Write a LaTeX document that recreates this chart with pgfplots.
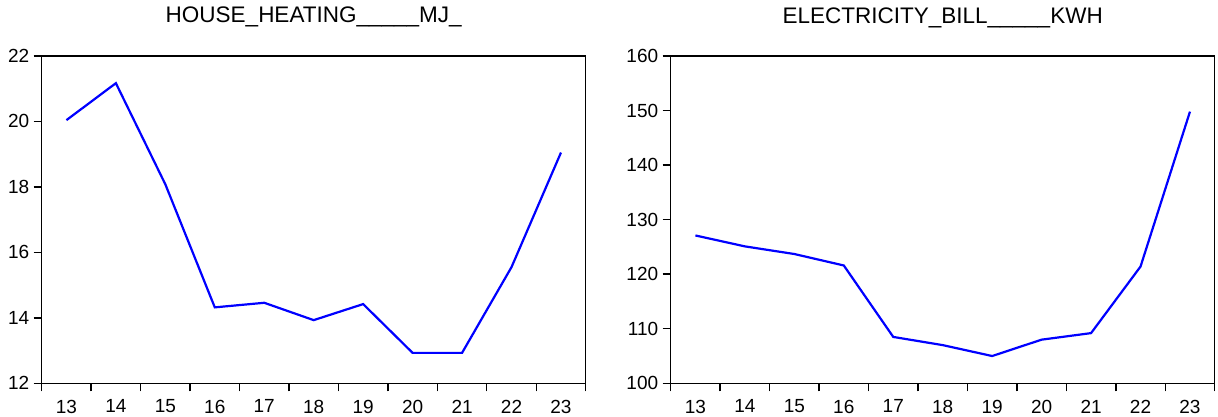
\documentclass[border=0pt]{standalone}
\usepackage{pgfplots}
\pgfplotsset{compat=1.18}
\usepackage{fontspec}
\setmainfont{Liberation Sans}

\pgfplotstableread{
x y
13 20.04
14 21.17
15 18.08
16 14.32
17 14.46
18 13.93
19 14.42
20 12.93
21 12.93
22 15.55
23 19.05
}\heating

\pgfplotstableread{
x y
13 127.1
14 125.1
15 123.7
16 121.6
17 108.5
18 107.0
19 105.0
20 108.0
21 109.2
22 121.4
23 149.8
}\electricity

\pgfplotsset{
  evstyle/.style={
    scale only axis,
    width=544pt, height=327.3pt,
    xmin=12.5, xmax=23.5,
    xtick={13,...,23},
    minor xtick={12.5,13.5,...,23.5},
    major x tick style={draw=none},
    tick align=outside,
    major tick length=8pt,
    minor tick length=8pt,
    xtick pos=bottom, ytick pos=left,
    axis line style={black, line width=1.4pt},
    every tick/.style={black, line width=1.4pt},
    minor x tick style={black, line width=1.4pt},
    tick label style={font=\fontsize{19}{22}\selectfont},
    /pgf/number format/assume math mode=true,
    yticklabel style={xshift=-1pt},
    xticklabel style={yshift=-5pt},
    title style={at={(0.5,1)}, anchor=base, yshift=27pt, font=\fontsize{22.5}{26}\selectfont},
  }
}

\begin{document}
\begin{tikzpicture}
\useasboundingbox (0,0) rectangle (1218pt,417pt);
\begin{axis}[evstyle, at={(41.7pt,33.7pt)}, anchor=south west,
  ymin=12, ymax=22, ytick={12,14,...,22},
  title={HOUSE\_HEATING\_\_\_\_\_MJ\_}]
\addplot[blue, line width=2.2pt] table[x=x,y=y] {\heating};
\end{axis}
\begin{axis}[evstyle, at={(670.7pt,33.7pt)}, anchor=south west,
  ymin=100, ymax=160, ytick={100,110,...,160},
  title={ELECTRICITY\_BILL\_\_\_\_\_KWH}]
\addplot[blue, line width=2.2pt] table[x=x,y=y] {\electricity};
\end{axis}
\end{tikzpicture}
\end{document}
